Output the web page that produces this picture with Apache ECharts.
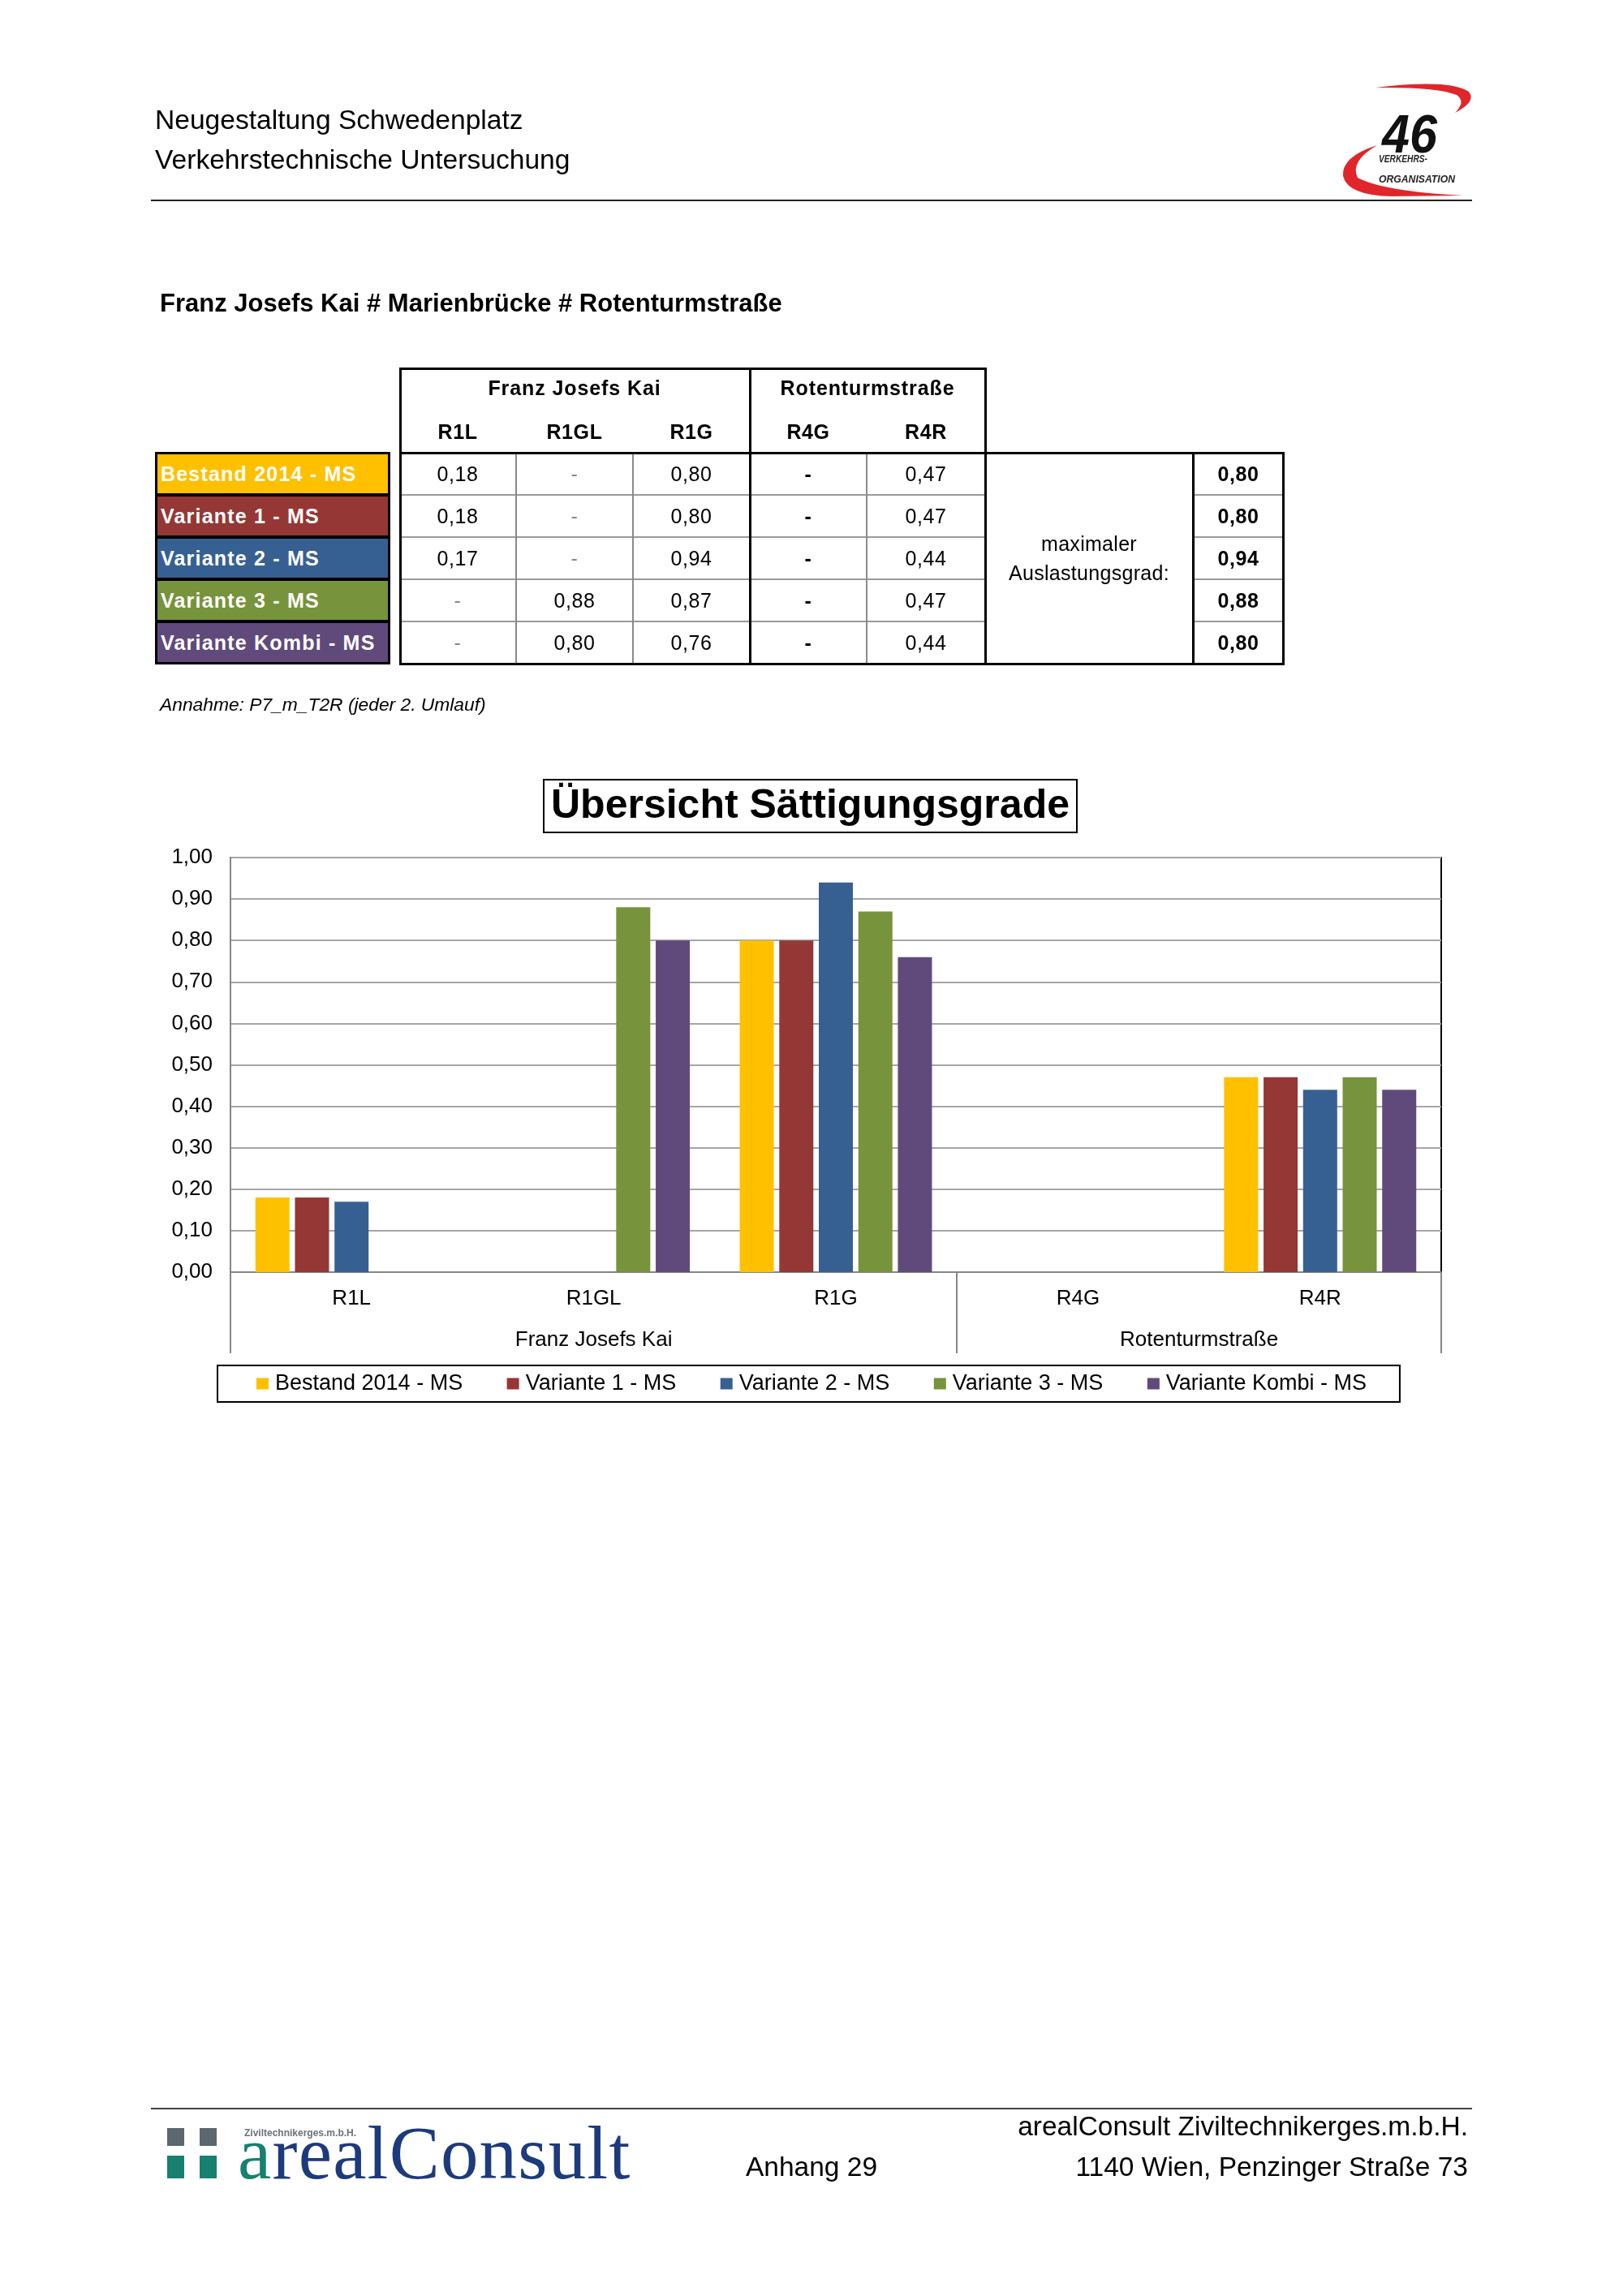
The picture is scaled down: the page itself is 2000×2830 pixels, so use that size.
<!DOCTYPE html>
<html><head><meta charset="utf-8">
<script src="https://cdn.jsdelivr.net/npm/echarts@6/dist/echarts.min.js"></script>
<style>
html,body{margin:0;padding:0;background:#fff;}
#page{position:relative;width:2000px;height:2830px;overflow:hidden;font-family:'Liberation Sans',Arial,sans-serif;color:#000;background:#fff;}
#chart{position:absolute;left:0;top:0;width:2000px;height:2830px;}
.abs{position:absolute;white-space:nowrap;}
.box{position:absolute;box-sizing:border-box;}
.cell{position:absolute;box-sizing:border-box;display:flex;align-items:center;justify-content:center;font-size:25px;letter-spacing:0.6px;white-space:nowrap;}
</style></head>
<body>
<div id="page"><div id="chart"></div><div id="overlay"></div></div>
<script>
// ---------------- data ----------------
const categories = ['R1L', 'R1GL', 'R1G', 'R4G', 'R4R'];
const groupLabels = ['Franz Josefs Kai', 'Rotenturmstraße'];
const groupSizes = [3, 2];
const seriesNames = ['Bestand 2014 - MS', 'Variante 1 - MS', 'Variante 2 - MS', 'Variante 3 - MS', 'Variante Kombi - MS'];
const bestand2014 = [0.18, null, 0.80, null, 0.47];
const variante1 = [0.18, null, 0.80, null, 0.47];
const variante2 = [0.17, null, 0.94, null, 0.44];
const variante3 = [null, 0.88, 0.87, null, 0.47];
const varianteKombi = [null, 0.80, 0.76, null, 0.44];
const maxAuslastung = [0.80, 0.80, 0.94, 0.88, 0.80];
const seriesColors = ['#FFC000', '#953735', '#376092', '#77933C', '#604A7B'];
const yMin = 0, yMax = 1, yInterval = 0.1;

const seriesValues = [bestand2014, variante1, variante2, variante3, varianteKombi];
const fmt = v => v.toFixed(2).replace('.', ',');

// ---------------- chart ----------------
// secondary (group) axis: half-category points, boundaryGap false
const nHalf = categories.length * 2 + 1;
const groupAxisData = new Array(nHalf).fill('');
const groupTickIdx = new Set([0]);
let acc = 0;
groupLabels.forEach((g, i) => {
  groupAxisData[Math.round((acc + groupSizes[i] / 2) * 2)] = g;
  acc += groupSizes[i];
  groupTickIdx.add(acc * 2);
});

const FONT = "'Liberation Sans', Arial, sans-serif";
const chart = echarts.init(document.getElementById('chart'), null, {renderer: 'canvas'});
chart.setOption({
  animation: false,
  backgroundColor: '#fff',
  title: {
    text: 'Übersicht Sättigungsgrade',
    left: 670, top: 961,
    padding: [8, 9, 7, 9],
    borderColor: '#000', borderWidth: 2,
    textStyle: {fontFamily: FONT, fontSize: 50, fontWeight: 'bold', color: '#000'}
  },
  legend: {
    data: seriesNames,
    left: 268, top: 1683,
    orient: 'horizontal',
    icon: 'rect',
    itemWidth: 15, itemHeight: 14, itemGap: 54.5,
    padding: [9, 41, 9, 48],
    borderColor: '#000', borderWidth: 2,
    textStyle: {fontFamily: FONT, fontSize: 27, color: '#000', padding: [0, 0, 0, 3]}
  },
  grid: {
    left: 284, top: 1057, width: 1492, height: 511,
    show: true, borderColor: '#000', borderWidth: 2, containLabel: false
  },
  xAxis: [{
    type: 'category', data: categories, position: 'bottom',
    axisLine: {show: true, lineStyle: {color: '#868686', width: 2}},
    axisTick: {show: false},
    axisLabel: {fontFamily: FONT, fontSize: 26, color: '#000', margin: 20},
    splitLine: {show: false}
  }, {
    type: 'category', data: groupAxisData, position: 'bottom', boundaryGap: false,
    axisLine: {show: false},
    axisTick: {show: true, length: 100, interval: (i) => groupTickIdx.has(i), lineStyle: {color: '#868686', width: 2}},
    axisLabel: {fontFamily: FONT, fontSize: 26, color: '#000', margin: 71, interval: (i, v) => v !== ''},
    splitLine: {show: false}
  }],
  yAxis: {
    type: 'value', min: yMin, max: yMax, interval: yInterval,
    axisLine: {show: true, lineStyle: {color: '#868686', width: 2}},
    axisTick: {show: false},
    axisLabel: {fontFamily: FONT, fontSize: 26, color: '#000', margin: 22, formatter: v => fmt(v)},
    splitLine: {show: true, lineStyle: {color: '#A6A6A6', width: 2}}
  },
  series: seriesNames.map((name, i) => ({
    name, type: 'bar', xAxisIndex: 0,
    data: seriesValues[i],
    barWidth: 42, barGap: '16%',
    itemStyle: {color: seriesColors[i]}
  }))
});

// ---------------- HTML overlay (header, table, footer) ----------------
const ov = document.getElementById('overlay');
function el(cls, style, html) {
  const d = document.createElement('div');
  d.className = cls;
  Object.assign(d.style, style);
  if (html !== undefined) d.innerHTML = html;
  ov.appendChild(d);
  return d;
}
// header
el('abs', {left: '191px', top: '128px', fontSize: '33.6px', lineHeight: '40px'}, 'Neugestaltung Schwedenplatz');
el('abs', {left: '191px', top: '177px', fontSize: '33.6px', lineHeight: '40px'}, 'Verkehrstechnische Untersuchung');
el('box', {left: '186px', top: '246px', width: '1628px', height: '2px', background: '#222'});
// logo 46
el('abs', {left: '1645px', top: '95px'}, `
<svg width="180" height="160" viewBox="0 0 180 160" xmlns="http://www.w3.org/2000/svg">
 <path d="M50,13 Q140,2 165,18 Q175,30 148,44 Q162,30 150,22 Q125,12 50,13 Z" fill="#E0262A"/>
 <path d="M52,84 Q8,98 10,122 Q16,146 70,147 L158,146 Q60,141 28,124 Q18,104 52,84 Z" fill="#E0262A"/>
 <text x="58" y="93" font-family="Liberation Sans, Arial" font-size="66" font-weight="bold" font-style="italic" fill="#111" textLength="68" lengthAdjust="spacingAndGlyphs">46</text>
 <text x="54" y="105" font-family="Liberation Sans, Arial" font-size="13" font-weight="bold" font-style="italic" fill="#222" textLength="60" lengthAdjust="spacingAndGlyphs">VERKEHRS-</text>
 <text x="54" y="130" font-family="Liberation Sans, Arial" font-size="13" font-weight="bold" font-style="italic" fill="#222" textLength="94" lengthAdjust="spacingAndGlyphs">ORGANISATION</text>
</svg>`);
// section title
el('abs', {left: '197px', top: '355px', fontSize: '31px', lineHeight: '38px', fontWeight: 'bold'}, 'Franz Josefs Kai # Marienbrücke # Rotenturmstraße');

// table geometry
const colX = [492, 636, 780, 924, 1068, 1214];
const tTop = 453, dTop = 558, rowH = 52, nRows = seriesNames.length;
const dBot = dTop + rowH * nRows;
// header texts
acc = 0;
groupLabels.forEach((g, i) => {
  const x0 = colX[acc], x1 = colX[acc + groupSizes[i]];
  el('cell', {left: x0 + 'px', top: (tTop + 7) + 'px', width: (x1 - x0) + 'px', height: '36px', fontWeight: 'bold', letterSpacing: '0.9px'}, g);
  acc += groupSizes[i];
});
categories.forEach((c, j) => {
  el('cell', {left: colX[j] + 'px', top: '513px', width: (colX[j + 1] - colX[j]) + 'px', height: '38px', fontWeight: 'bold'}, c);
});
// grid lines
for (let r = 1; r < nRows; r++) {
  el('box', {left: colX[0] + 'px', top: (dTop + r * rowH - 1) + 'px', width: (colX[5] - colX[0]) + 'px', height: '2px', background: '#9a9a9a'});
  el('box', {left: '1470px', top: (dTop + r * rowH - 1) + 'px', width: '112px', height: '2px', background: '#9a9a9a'});
}
[1, 2, 4].forEach(j => el('box', {left: (colX[j] - 1) + 'px', top: dTop + 'px', width: '2px', height: (dBot - dTop) + 'px', background: '#8a8a8a'}));
el('box', {left: colX[3] - 1 + 'px', top: tTop + 'px', width: '3px', height: (dBot - tTop) + 'px', background: '#000'});
el('box', {left: colX[0] + 'px', top: (dTop - 1) + 'px', width: (colX[5] - colX[0]) + 'px', height: '3px', background: '#000'});
el('box', {left: colX[0] + 'px', top: tTop + 'px', width: (colX[5] - colX[0] + 2) + 'px', height: (dBot - tTop + 2) + 'px', border: '3px solid #000'});
// merged cell and max column
el('box', {left: '1213px', top: (dTop - 1) + 'px', width: '259px', height: (dBot - dTop + 3) + 'px', border: '3px solid #000'});
el('cell', {left: '1214px', top: '650px', width: '256px', height: '76px', flexDirection: 'column', lineHeight: '36px', letterSpacing: '0.3px'}, '<div>maximaler</div><div>Auslastungsgrad:</div>');
el('box', {left: '1469px', top: (dTop - 1) + 'px', width: '114px', height: (dBot - dTop + 3) + 'px', border: '3px solid #000', borderLeftWidth: '2px'});
// data cells
seriesNames.forEach((name, r) => {
  const y = dTop + r * rowH;
  // label
  el('cell', {left: '191px', top: (y - 1) + 'px', width: '290px', height: (rowH + 2) + 'px', background: seriesColors[r],
    border: '3px solid #000', justifyContent: 'flex-start', paddingLeft: '4px', color: '#fff', fontWeight: 'bold', letterSpacing: '1.2px'}, name);
  categories.forEach((c, j) => {
    const v = seriesValues[r][j];
    const dashColor = j < groupSizes[0] ? '#8a8a8a' : '#000';
    el('cell', {left: colX[j] + 'px', top: y + 'px', width: (colX[j + 1] - colX[j]) + 'px', height: rowH + 'px',
      color: v === null ? dashColor : '#000', fontWeight: (v === null && j >= groupSizes[0]) ? 'bold' : 'normal'}, v === null ? '-' : fmt(v));
  });
  el('cell', {left: '1470px', top: y + 'px', width: '112px', height: rowH + 'px', fontWeight: 'bold'}, fmt(maxAuslastung[r]));
});
el('abs', {left: '197px', top: '854px', fontSize: '22.8px', lineHeight: '28px', fontStyle: 'italic'}, 'Annahme: P7_m_T2R (jeder 2. Umlauf)');

// footer
el('box', {left: '186px', top: '2598px', width: '1628px', height: '2px', background: '#444'});
el('box', {left: '206px', top: '2623px', width: '21px', height: '22px', background: '#5d6770'});
el('box', {left: '246px', top: '2623px', width: '21px', height: '22px', background: '#5d6770'});
el('box', {left: '206px', top: '2657px', width: '21px', height: '28px', background: '#17806f'});
el('box', {left: '246px', top: '2657px', width: '21px', height: '28px', background: '#17806f'});
el('abs', {left: '301px', top: '2622px', fontSize: '12px', lineHeight: '14px', fontWeight: 'bold', color: '#6b7278'}, 'Ziviltechnikerges.m.b.H.');
el('abs', {left: '293px', top: '2608px', fontSize: '93px', lineHeight: '92px', letterSpacing: '1.2px', fontFamily: "'Liberation Serif', 'Times New Roman', serif", color: '#1d3a7c'},
  '<span style="color:#17806f">a</span>realConsult');
el('abs', {left: '919px', top: '2651px', fontSize: '33.5px', lineHeight: '40px'}, 'Anhang 29');
el('abs', {right: '191px', top: '2601px', fontSize: '33.5px', lineHeight: '40px', textAlign: 'right'}, 'arealConsult Ziviltechnikerges.m.b.H.');
el('abs', {right: '191px', top: '2651px', fontSize: '33.5px', lineHeight: '40px', textAlign: 'right'}, '1140 Wien, Penzinger Straße 73');
</script>
</body></html>
